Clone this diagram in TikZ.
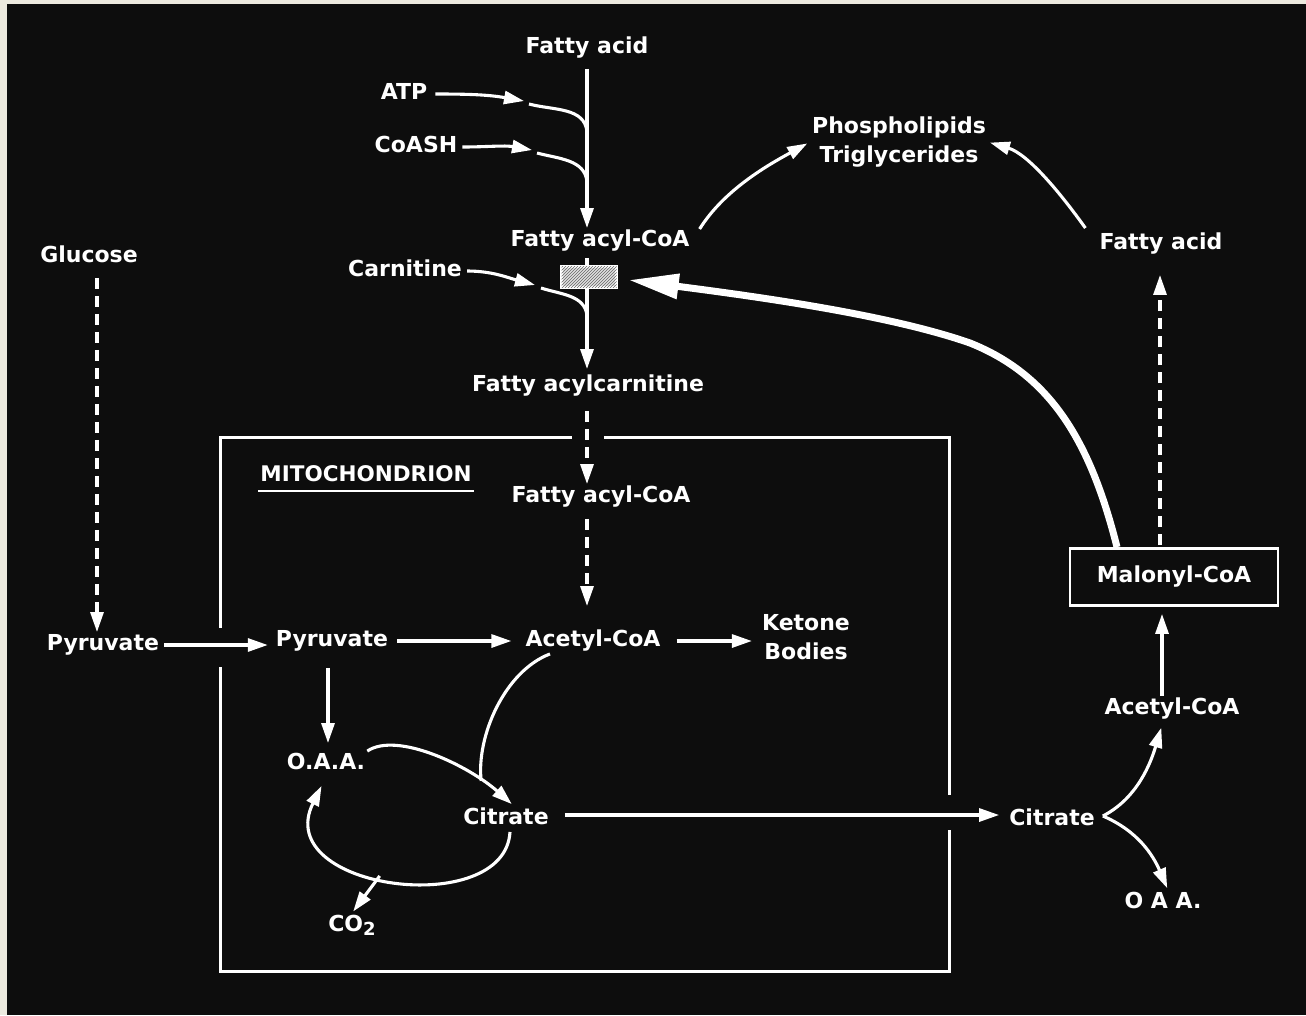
\documentclass[tikz,border=0pt]{standalone}
\usepackage{fontspec}
\setmainfont{DejaVu Sans}
\usetikzlibrary{arrows.meta,patterns}
\definecolor{slidebg}{HTML}{0D0D0D}
\definecolor{slideedge}{HTML}{ECEADF}

\begin{document}
\begin{tikzpicture}[x=1pt,y=-1pt,
  lbl/.style={text=white,font=\bfseries\fontsize{22}{29}\selectfont,inner sep=2pt,text height=16.5pt,text depth=5pt},
  lbltwo/.style={text=white,font=\bfseries\fontsize{22}{29}\selectfont,inner sep=2pt,align=center},
  flow/.style={draw=white,line width=3.1pt,-{Triangle[length=20pt,width=13pt]}},
  dflow/.style={flow,dash pattern=on 11pt off 7pt},
  link/.style={draw=white,line width=3.1pt},
  membrane/.style={draw=white,line width=3pt}]
% slide
\fill[slideedge] (0,0) rectangle (1306,1015);
\fill[slidebg] (7,4) rectangle (1306,1015);
\useasboundingbox (0,0) rectangle (1306,1015);

% mitochondrion outline, open where the arrows cross it
\draw[membrane] (604,437) -- (949,437) -- (949,795);
\draw[membrane] (949,830) -- (949,971) -- (220,971) -- (220,667);
\draw[membrane] (220,628) -- (220,437) -- (572,437);

% labels
\node[lbl] (fa1) at (587,48) {Fatty acid};
\node[lbl] (atp) at (404,94) {ATP};
\node[lbl] (coash) at (416,147) {CoASH};
\node[lbl] (faco1) at (600,241) {Fatty acyl-CoA};
\node[lbl] (carn) at (405,271) {Carnitine};
\node[lbl] (facarn) at (588,386) {Fatty acylcarnitine};
\node[lbl,font=\bfseries\fontsize{21.5}{26}\selectfont] (mito) at (366,476) {MITOCHONDRION};
\node[lbl] (faco2) at (601,497) {Fatty acyl-CoA};
\node[lbl] (glc) at (89,257) {Glucose};
\node[lbl] (pyr1) at (103,645) {Pyruvate};
\node[lbl] (pyr2) at (332,641) {Pyruvate};
\node[lbl] (aco1) at (593,641) {Acetyl-CoA};
\node[lbltwo] (ket) at (806,637) {Ketone\\Bodies};
\node[lbl] (oaa1) at (326,764) {O.A.A.};
\node[lbl] (cit1) at (506,819) {Citrate};
\node[lbl] (co2) at (352,926) {CO\raisebox{-4pt}{\fontsize{18}{18}\selectfont 2}};
\node[lbl] (cit2) at (1052,820) {Citrate};
\node[lbl] (oaa2) at (1163,903) {O A A.};
\node[lbl] (aco2) at (1172,709) {Acetyl-CoA};
\node[lbl,draw=white,line width=2.8pt,minimum width=208pt,minimum height=57pt,text height=,text depth=] (mal) at (1174,577) {Malonyl-CoA};
\node[lbl] (fa2) at (1161,244) {Fatty acid};
\node[lbltwo] (lip) at (899,142) {Phospholipids\\Triglycerides};
\draw[white,line width=2.8pt] ([yshift=-2pt]mito.south west) -- ([yshift=-2pt]mito.south east);

% activation of the fatty acid
\draw[flow,shorten <=8pt] (fa1.south) -- (fa1.south |- faco1.north);
\coordinate (atptip) at (524,101);
\coordinate (atpgap) at (529,104);
\coordinate (atpjoin) at (587,132);
\draw[flow,shorten <=6pt] (atp.east) to[out=0,in=170] (atptip);
\draw[link] (atpgap) to[out=-15,in=95] (atpjoin);
\coordinate (coatip) at (532,150);
\coordinate (coagap) at (537,153);
\coordinate (coajoin) at (587,182);
\draw[flow,shorten <=3pt] (coash.east) to[out=0,in=170] (coatip);
\draw[link] (coagap) to[out=-15,in=95] (coajoin);

% carnitine transfer
\coordinate (carntip) at (535,285);
\coordinate (carngap) at (541,288);
\coordinate (carnjoin) at (587,316);
\draw[flow,shorten <=3pt] (carn.east) to[out=0,in=165] (carntip);
\draw[link] (carngap) to[out=-18,in=95] (carnjoin);
\draw[flow,shorten <=4pt,shorten >=4pt] (fa1 |- faco1.south) -- (fa1 |- facarn.north);
\node[draw=white,line width=2.4pt,fill=gray!25,minimum width=55pt,minimum height=21pt,
  postaction={pattern=north east lines,pattern color=gray!80!black}] (cpt) at (589,277) {};
\draw[dflow,shorten <=12pt] (fa1 |- facarn.south) -- (fa1 |- faco2.north);
\draw[dflow,shorten <=9pt,shorten >=22pt] (fa1 |- faco2.south) -- (fa1 |- aco1.north);

% glycolysis and pyruvate entry
\draw[dflow,shorten <=8pt] ([xshift=8pt]glc.south) -- ([xshift=8pt]glc.south |- pyr1.north);
\draw[flow,shorten <=3pt,shorten >=6pt] (pyr1.east) -- (pyr1.east -| pyr2.west);
\draw[flow,shorten <=7pt,shorten >=12pt] (pyr2.east) -- (pyr2.east -| aco1.west);
\draw[flow,shorten <=14pt,shorten >=8pt] (aco1.east) -- (aco1.east -| ket.west);
\draw[flow,shorten <=14pt,shorten >=8pt] ([xshift=-4pt]pyr2.south) -- ([xshift=-4pt]pyr2.south |- oaa1.north);

% citrate cycle
\draw[flow,shorten >=3pt] (oaa1.north east) .. controls +(30,-20) and +(-45,-40) .. ([xshift=8pt]cit1.north)
  coordinate[pos=0.78] (cjoin);
\draw[link] ([xshift=-43pt]aco1.south) .. controls +(-45,17) and +(-5,-45) .. (cjoin);
\draw[flow,shorten >=10pt] ([xshift=4pt]cit1.south) .. controls (505,920) and (270,890) .. (oaa1.south)
  coordinate[pos=0.55] (co2src);
\draw[flow,shorten >=2pt] (co2src) -- (co2.north);

% citrate leaves the mitochondrion
\draw[flow,shorten <=14pt,shorten >=8pt] ([yshift=4pt]cit1.east) -- ([yshift=4pt]cit1.east -| cit2.west);
\coordinate (citfork) at ([shift={(6pt,4pt)}]cit2.east);
\draw[flow,shorten >=6pt] (citfork) .. controls +(35,-18) and +(-12,40) .. ([xshift=-9pt]aco2.south);
\draw[flow,shorten >=2pt] (citfork) .. controls +(35,15) and +(-15,-35) .. ([xshift=5pt]oaa2.north);
\draw[flow,shorten >=7pt] ([xshift=-10pt]aco2.north) -- ([xshift=-10pt]aco2.north |- mal.south);
\draw[dflow,shorten <=2pt,shorten >=18pt] ([xshift=-14pt]mal.north) -- ([xshift=-14pt]mal.north |- fa2.south);

% lipid synthesis
\draw[flow,shorten >=3pt] ([shift={(8pt,12pt)}]faco1.east) .. controls +(25,-40) and +(-40,22) .. (lip.west);
\draw[flow,shorten >=2pt] ([shift={(-12pt,3pt)}]fa2.north west) .. controls +(-25,-35) and +(40,12) .. (lip.east);

% malonyl-CoA blocks the carnitine transfer
\draw[draw=white,line width=7pt,-{Triangle[length=50pt,width=24pt]}]
  ([xshift=-57pt]mal.north) .. controls (1090,440) and (1050,375) .. (970,343)
  .. controls (890,315) and (760,297) .. ([shift={(11pt,-3pt)}]cpt.east);
\end{tikzpicture}
\end{document}
